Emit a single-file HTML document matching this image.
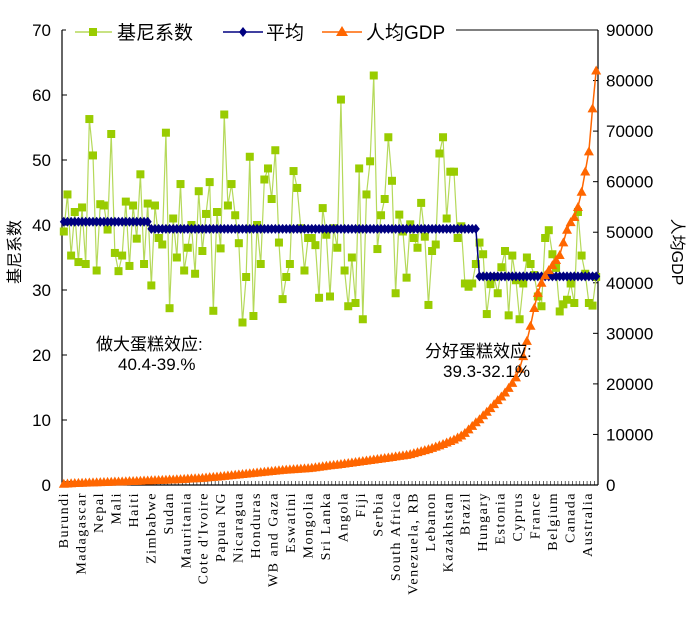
<!DOCTYPE html>
<html><head><meta charset="utf-8"><style>
body{margin:0;background:#fff;}
svg{display:block;font-family:"Liberation Sans","Noto Sans CJK SC",sans-serif;}
</style></head><body>
<svg id="chart" width="692" height="618"></svg>
<script>
const labels=["Burundi","Madagascar","Nepal","Mali","Haiti","Zimbabwe","Sudan","Mauritania","Cote d'Ivoire","Papua NG","Nicaragua","Honduras","WB and Gaza","Eswatini","Mongolia","Sri Lanka","Angola","Fiji","Serbia","South Africa","Venezuela, RB","Lebanon","Kazakhstan","Brazil","Hungary","Estonia","Cyprus","France","Belgium","Canada","Australia"];
const gini=[39,44.7,35.3,42,34.3,42.7,34,56.3,50.7,33,43.2,43,39.3,54,35.7,32.9,35.3,43.6,33.7,43,37.9,
47.8,34,43.3,30.7,43,38,37,54.2,27.2,41,35,46.3,33,36.5,40,32.5,45.2,36,41.7,46.6,26.8,42,36.4,57,43,46.3,41.5,37.2,25,32,50.5,26,40,34,47,48.7,44,51.5,37.3,28.6,32,34,48.3,45.7,39.5,33,38,38,36.9,28.8,42.6,38.5,29,39.5,36.5,59.3,33,27.5,35,28,48.7,25.5,44.7,49.8,63,36.3,41.5,44,53.5,46.8,29.5,41.6,39,31.9,40.1,38,
36.5,43.4,38.2,27.7,36,37,51,53.5,41,48.2,48.2,38,39.8,31,
30.5,31,34,37.3,35.5,26.3,30.9,32,29.5,33.5,36,26.1,35.3,31.5,25.5,31,35,34,32.3,29,27.5,38,39.2,35.5,33.4,26.7,27.8,28.5,31,28,42,35.3,32.5,28,27.6,32];
const gdp=[250,300,350,400,420,450,480,500,520,550,580,600,620,650,680,700,720,750,780,800,820,850,880,900,930,960,1000,1020,1050,1080,1100,1130,1160,1200,1250,1300,1330,1370,1420,1480,
1550,1600,1650,1720,1800,1880,1950,2020,2100,2180,2250,2330,2400,2480,2550,2620,2700,2780,2850,2920,3000,3050,3100,3150,3200,3250,3300,3350,3420,3500,
3600,3700,3800,3900,3980,4050,4150,4250,4350,4450,4550,4650,4750,4850,4950,5050,5150,5250,5350,5450,5550,5650,5750,5850,5950,
6100,6300,6500,6700,6900,7100,7350,7600,7850,8100,8400,8700,9000,9400,9800,
10300,11000,11700,12400,13000,13800,14500,15200,16000,16800,17500,18300,19200,20200,21300,
23000,25500,28500,31500,35000,38000,40000,41500,42500,43500,44500,45500,48000,50500,52000,
53000,55000,58000,62000,66000,74500,82000];
const segEnds=[23,113,146];
const segAvg=[40.5,39.4,32.1];
const leftTicks=[0,10,20,30,40,50,60,70];
const rightTicks=[0,10000,20000,30000,40000,50000,60000,70000,80000,90000];

const NS="http://www.w3.org/2000/svg";
const svg=document.getElementById('chart');
function el(t,a,p){const e=document.createElementNS(NS,t);for(const k in a)e.setAttribute(k,a[k]);(p||svg).appendChild(e);return e;}
const X0=62,X1=598,Y0=485,Y1=30;
const N=gini.length;
const xs=i=>X0+(i+0.5)*(X1-X0)/N;
const yl=v=>Y0-(v/70)*(Y0-Y1);
const yr=v=>Y0-(v/90000)*(Y0-Y1);

// axes
let a=el('line',{x1:X0,y1:Y1,x2:X0,y2:Y0,stroke:'#000','stroke-width':1.2});

a=el('line',{x1:X1,y1:Y1,x2:X1,y2:Y0,stroke:'#000','stroke-width':1.2});

a=el('line',{x1:X0,y1:Y0,x2:X1,y2:Y0,stroke:'#000','stroke-width':1.2});

a=el('line',{x1:X0,y1:Y1,x2:X1,y2:Y1,stroke:'#000','stroke-width':1});

for(let i=0;i<=N;i++){const x=X0+i*(X1-X0)/N;el('line',{x1:x,y1:Y0,x2:x,y2:Y0-4,stroke:'#000','stroke-width':0.6});}
leftTicks.forEach(v=>{const y=yl(v);el('line',{x1:X0,y1:y,x2:X0+5,y2:y,stroke:'#000'});
const t=el('text',{x:X0-11,y:y+6,'text-anchor':'end','font-size':17});t.textContent=v;
});
rightTicks.forEach(v=>{const y=yr(v);el('line',{x1:X1,y1:y,x2:X1-5,y2:y,stroke:'#000'});
const t=el('text',{x:X1+8,y:y+6,'font-size':17});t.textContent=v;
});

// gini
el('polyline',{points:gini.map((v,i)=>xs(i)+','+yl(v)).join(' '),fill:'none',stroke:'#b5d95a','stroke-width':1.2});
gini.forEach((v,i)=>{const r=el('rect',{x:xs(i)-4,y:yl(v)-4,width:8,height:8,fill:'#99cc00'});
});
// avg
let pts=[],s=0;
for(let i=0;i<N;i++){if(i>segEnds[s])s++;pts.push(xs(i)+','+yl(segAvg[s]));}
el('polyline',{points:pts.join(' '),fill:'none',stroke:'#000080','stroke-width':1.5});
s=0;for(let i=0;i<N;i++){if(i>segEnds[s])s++;const x=xs(i),y=yl(segAvg[s]);
const d=el('polygon',{points:`${x},${y-5} ${x+4},${y} ${x},${y+5} ${x-4},${y}`,fill:'#000080'});
}
// gdp
el('polyline',{points:gdp.map((v,i)=>xs(i)+','+yr(v)).join(' '),fill:'none',stroke:'#ff6600','stroke-width':1.5});
gdp.forEach((v,i)=>{const x=xs(i),y=yr(v);const t=el('polygon',{points:`${x},${y-5} ${x+5},${y+4} ${x-5},${y+4}`,fill:'#ff6600'});
});

// x labels
labels.forEach((l,k)=>{const x=64+k*(588-64)/(labels.length-1)+4;
const t=el('text',{x:0,y:0,transform:`translate(${x},492) rotate(-90)`,'text-anchor':'end','font-size':14,'font-family':'Liberation Serif, serif','letter-spacing':'1.5'});t.textContent=l;
});

// axis titles
let t=el('text',{transform:'translate(20,252) rotate(-90)','text-anchor':'middle','font-size':16});t.textContent='基尼系数';

t=el('text',{transform:'translate(672,252) rotate(90)','text-anchor':'middle','font-size':16});t.textContent='人均GDP';


// legend
const lg=el('g',{});
el('rect',{x:66,y:18,width:390,height:26,fill:'#fff'},lg);
el('line',{x1:75,y1:32,x2:112,y2:32,stroke:'#b5d95a','stroke-width':1.5},lg);el('rect',{x:89,y:28,width:8,height:8,fill:'#99cc00'},lg);
t=el('text',{x:117,y:39,'font-size':19},lg);t.textContent='基尼系数';
el('line',{x1:223,y1:32,x2:263,y2:32,stroke:'#000080','stroke-width':1.5},lg);el('polygon',{points:'243,27 247,32 243,37 239,32',fill:'#000080'},lg);
t=el('text',{x:266,y:39,'font-size':19},lg);t.textContent='平均';
el('line',{x1:322,y1:32,x2:362,y2:32,stroke:'#ff6600','stroke-width':1.5},lg);el('polygon',{points:'342,26 348,36 336,36',fill:'#ff6600'},lg);
t=el('text',{x:366,y:39,'font-size':19},lg);t.textContent='人均GDP';

// annotations
[['做大蛋糕效应:',96,350],['40.4-39.%',118,370],['分好蛋糕效应:',425,357],['39.3-32.1%',443,377]].forEach(([s,x,y])=>{
const t=el('text',{x:x,y:y,'font-size':17});t.textContent=s;});
</script>
</body></html>
